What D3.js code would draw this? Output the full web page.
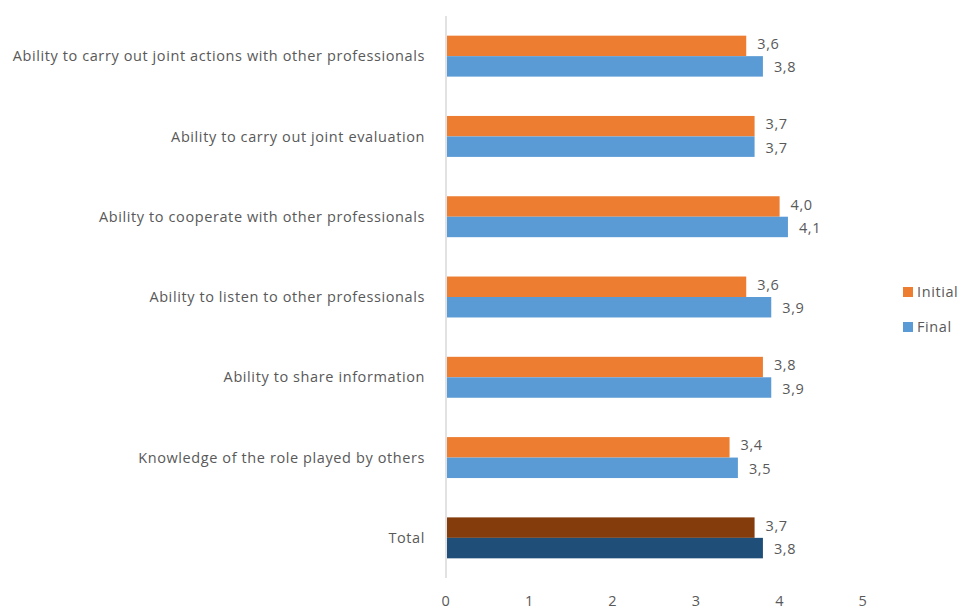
<!DOCTYPE html>
<html>
<head>
<meta charset="utf-8">
<script src="https://cdn.jsdelivr.net/npm/d3@7"></script>
<style>
  html, body { margin: 0; padding: 0; background: #fff; }
  svg text { font-family: "Open Sans", Lato, sans-serif; fill: #595959; letter-spacing: 0.6px; }
</style>
</head>
<body>
<svg id="chart" width="957" height="610"></svg>
<script>
// Skills assessed, top to bottom
const categories = [
  "Ability to carry out joint actions with other professionals",
  "Ability to carry out joint evaluation",
  "Ability to cooperate with other professionals",
  "Ability to listen to other professionals",
  "Ability to share information",
  "Knowledge of the role played by others",
  "Total"
];
const seriesNames = ["Initial", "Final"];
const initialValues = [3.6, 3.7, 4.0, 3.6, 3.8, 3.4, 3.7];
const finalValues   = [3.8, 3.7, 4.1, 3.9, 3.9, 3.5, 3.8];
const xTicks = [0, 1, 2, 3, 4, 5];

const colors = { Initial: "#ED7D31", Final: "#5B9BD5" };
const totalColors = { Initial: "#843C0C", Final: "#1F4E79" };

const svg = d3.select("#chart");
const plot = { left: 446, right: 863, top: 16, bottom: 578 };
const fontSize = 14.5;

const x = d3.scaleLinear().domain([0, 5]).range([plot.left, plot.right]);
const y = d3.scaleBand().domain(categories).range([plot.top, plot.bottom]).paddingInner(0.49).paddingOuter(0.245);
const ySub = d3.scaleBand().domain(seriesNames).range([0, y.bandwidth()]);

const rows = categories.map((c, i) => ({
  category: c,
  values: [
    { series: "Initial", value: initialValues[i] },
    { series: "Final", value: finalValues[i] }
  ]
}));

const fmt = v => d3.format(".1f")(v).replace(".", ",");

// Vertical axis line at zero
svg.append("line")
  .attr("x1", x(0)).attr("x2", x(0))
  .attr("y1", plot.top).attr("y2", plot.bottom)
  .attr("stroke", "#d9d9d9").attr("stroke-width", 1.5);

// Bars and value labels
const groups = svg.selectAll("g.row").data(rows).join("g")
  .attr("class", "row")
  .attr("transform", d => `translate(0,${y(d.category)})`);

groups.selectAll("rect").data(d => d.values.map(v => ({ ...v, total: d.category === "Total" })))
  .join("rect")
  .attr("x", x(0) + 1)
  .attr("y", d => ySub(d.series))
  .attr("width", d => x(d.value) - x(0) - 1)
  .attr("height", ySub.bandwidth())
  .attr("fill", d => d.total ? totalColors[d.series] : colors[d.series]);

groups.selectAll("text.val").data(d => d.values)
  .join("text")
  .attr("class", "val")
  .attr("x", d => x(d.value) + 11)
  .attr("y", d => ySub(d.series) + ySub.bandwidth() / 2 + (d.series === "Initial" ? -2 : 1))
  .attr("dy", "0.35em")
  .attr("font-size", fontSize)
  .text(d => fmt(d.value));

// Category labels
svg.selectAll("text.cat").data(categories).join("text")
  .attr("class", "cat")
  .attr("x", 425)
  .attr("y", d => y(d) + y.bandwidth() / 2)
  .attr("dy", "0.35em")
  .attr("text-anchor", "end")
  .attr("font-size", fontSize)
  .text(d => d);

// X axis tick labels
svg.selectAll("text.tick").data(xTicks).join("text")
  .attr("class", "tick")
  .attr("x", d => x(d))
  .attr("y", 606)
  .attr("text-anchor", "middle")
  .attr("font-size", fontSize)
  .text(d => d);

// Legend
const legend = svg.append("g");
seriesNames.forEach((s, i) => {
  const ly = 292 + i * 35;
  legend.append("rect")
    .attr("x", 903).attr("y", ly - 5).attr("width", 10).attr("height", 10)
    .attr("fill", colors[s]);
  legend.append("text")
    .attr("x", 917).attr("y", ly).attr("dy", "0.35em")
    .attr("font-size", fontSize)
    .text(s);
});
</script>
</body>
</html>
